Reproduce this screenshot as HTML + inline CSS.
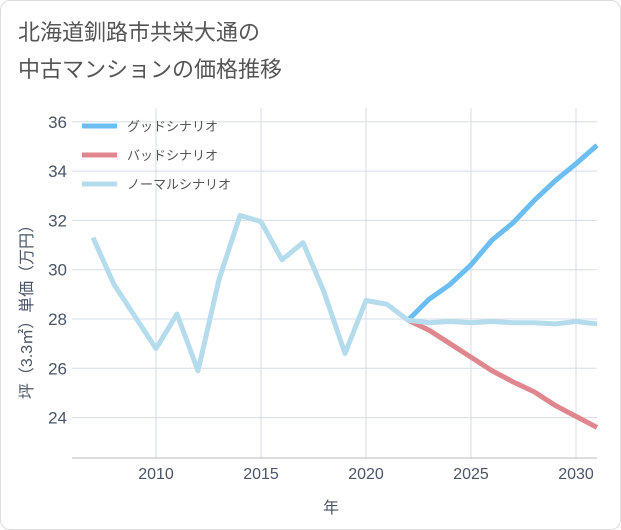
<!DOCTYPE html>
<html><head><meta charset="utf-8"><style>
body{margin:0;background:#fff;font-family:"Liberation Sans","Noto Sans CJK JP",sans-serif}
#card{position:absolute;left:0;top:0;width:619px;height:528px;border:1px solid #ddd;border-radius:10px;background:#fff}
</style></head><body>
<div id="card">
<svg width="621" height="530" style="position:absolute;left:-1px;top:-1px">
<text x="18" y="40" font-size="22" fill="#555">北海道釧路市共栄大通の</text>
<text x="18" y="77" font-size="22" fill="#555">中古マンションの価格推移</text>
<g id="grid"></g><g id="series"></g><g id="legend"></g>
<text x="331" y="513" font-size="16" fill="#4a5568" text-anchor="middle">年</text>
<text transform="translate(32,308) rotate(-90)" font-size="16" fill="#4a5568" text-anchor="middle">坪（3.3㎡）単価（万円）</text>
</svg></div>
<script>
const years=[2007,2008,2009,2010,2011,2012,2013,2014,2015,2016,2017,2018,2019,2020,2021,2022,2023,2024,2025,2026,2027,2028,2029,2030,2031];
const normal=[31.3,29.4,28.1,26.8,28.2,25.9,29.6,32.2,31.95,30.4,31.1,29.1,26.6,28.75,28.6,27.95,27.85,27.9,27.85,27.9,27.85,27.85,27.8,27.9,27.8];
const futYears=[2022,2023,2024,2025,2026,2027,2028,2029,2030,2031];
const good=[27.95,28.8,29.4,30.2,31.2,31.9,32.8,33.6,34.3,35.05];
const bad=[27.95,27.55,27.0,26.45,25.9,25.45,25.05,24.5,24.05,23.6];
const xTicks=[2010,2015,2020,2025,2030];
const yTicks=[24,26,28,30,32,34,36];
const X0=72,X1=597,Y0=108,Y1=458;
const x=v=>156+(v-2010)*21;
const y=v=>319-(v-28)*24.65;
const NS="http://www.w3.org/2000/svg";
function mk(p,t,a){const e=document.createElementNS(NS,t);for(const k in a)e.setAttribute(k,a[k]);p.appendChild(e);return e;}
const g=document.getElementById('grid');
for(const t of xTicks){const l=mk(g,'line',{x1:x(t),x2:x(t),y1:Y0,y2:Y1,stroke:'#d5dde6'});

const tx=mk(g,'text',{x:x(t),y:479,'font-size':16,fill:'#4a5568','text-anchor':'middle'});tx.textContent=t;
}
for(const t of yTicks){const l=mk(g,'line',{x1:X0,x2:X1,y1:y(t),y2:y(t),stroke:'#d5dde6'});

const tx=mk(g,'text',{x:67,y:y(t)+6,'font-size':17,fill:'#4a5568','text-anchor':'end'});tx.textContent=t;
}
const ax=mk(g,'line',{x1:X0,x2:X1,y1:Y1,y2:Y1,stroke:'#bbb'});

const s=document.getElementById('series');
function line(xs,vs,c,n){const p=mk(s,'polyline',{points:xs.map((v,i)=>x(v)+','+y(vs[i])).join(' '),fill:'none',stroke:c,'stroke-width':5,'stroke-linejoin':'round'});
}
line(futYears,good,'#6bbdf2','good-scenario-line');
line(futYears,bad,'#e0868e','bad-scenario-line');
line(years,normal,'#b5dcec','normal-scenario-line');
const lg=document.getElementById('legend');
[['グッドシナリオ','#6bbdf2'],['バッドシナリオ','#e0868e'],['ノーマルシナリオ','#b5dcec']].forEach((d,i)=>{
const yy=126+i*29;
const l=mk(lg,'line',{x1:82,x2:117,y1:yy,y2:yy,stroke:d[1],'stroke-width':5});

const t=mk(lg,'text',{x:127,y:yy+5,'font-size':13,fill:'#555'});t.textContent=d[0];
});
</script></body></html>
